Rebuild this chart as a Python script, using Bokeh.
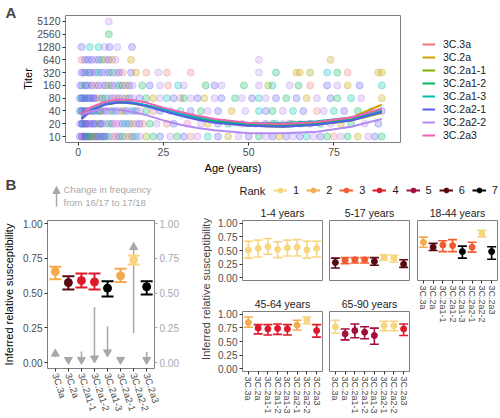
import math
from bokeh.plotting import figure
from bokeh.models import (Range1d, FactorRange, FixedTicker, NumeralTickFormatter,
                          LinearAxis, Legend, LegendItem, Label, Arrow, NormalHead,
                          ColumnDataSource)
from bokeh.layouts import row, column
from bokeh.embed import file_html
from bokeh.resources import INLINE

FONT = "Liberation Sans"

# ---------------- data ----------------
clades = ["3C.3a", "3C.2a", "3C.2a1-1", "3C.2a1-2", "3C.2a1-3", "3C.2a2-1", "3C.2a2-2", "3C.2a3"]
clade_colors = ["#f0787a", "#c9a000", "#7cae00", "#00b761", "#00bfb0", "#5a5af0", "#b58af0", "#f062b0"]
titer_ticks = [10, 20, 40, 80, 160, 320, 640, 1280, 2560, 5120]
age_ticks = [0, 25, 50, 75]

# individual titers: (age, clade index)
pts_10 = [(0.5, 5), (1, 6), (1.5, 0), (2, 5), (2.5, 3), (3, 6), (3.5, 5), (4, 1), (4.5, 5), (5, 2), (6, 5),
          (6.5, 6), (7, 3), (8, 5), (9, 3), (10, 6), (11, 0), (12, 5), (13, 3), (14, 6), (15, 1), (16, 5),
          (17, 4), (18, 6), (20, 2), (22, 3), (24, 5), (27, 6), (29, 3), (31, 5), (33, 0), (35, 6), (38, 4),
          (41, 5), (44, 1), (47, 6), (50, 5), (53, 3), (55, 6), (57, 5), (59, 1), (61, 5), (63, 6), (65, 5),
          (67, 4), (69, 6), (71, 5), (73, 3), (75, 0), (77, 6), (79, 3), (82, 1), (85, 6), (87, 5), (89, 3),
          (1.2, 5), (2.2, 5), (3.2, 3), (5.5, 5), (7.5, 5)]
pts_20 = [(0.5, 6), (1, 5), (1.5, 3), (2, 6), (2.5, 5), (3, 0), (3.5, 5), (4, 6), (5, 5), (6, 2), (7, 5),
          (8, 6), (9, 3), (10, 5), (11, 7), (12, 6), (13, 5), (14, 4), (15, 5), (16, 1), (17, 6), (18, 5),
          (19, 0), (21, 3), (23, 6), (26, 0), (28, 5), (32, 7), (36, 6), (38, 1), (41, 5), (44, 3), (48, 6),
          (52, 0), (55, 5), (57, 3), (58, 4), (60, 6), (62, 5), (63, 2), (65, 6), (68, 5), (71, 4), (74, 6),
          (77, 1), (80, 3), (84, 6), (88, 5), (1.2, 5), (2.2, 5), (4.5, 5), (6.5, 5)]
pts_40 = [(0.5, 5), (1, 3), (1.5, 6), (2, 5), (3, 1), (3.5, 5), (4, 6), (5, 4), (6, 5), (7, 0), (8, 5),
          (9, 6), (10, 3), (11, 5), (12, 6), (13, 2), (14, 5), (15, 6), (16, 4), (17, 5), (18, 6), (20, 3),
          (22, 0), (24, 5), (27, 6), (30, 4), (33, 5), (36, 3), (38, 6), (41, 5), (45, 1), (49, 6), (53, 4),
          (55, 5), (57, 3), (60, 6), (63, 4), (66, 5), (70, 0), (72, 6), (75, 4), (78, 5), (82, 3), (86, 6),
          (89, 5), (1.2, 5), (2.5, 5), (4.5, 5), (6.5, 3)]
pts_80 = [(0.5, 5), (1, 4), (1.5, 6), (2, 5), (2.5, 3), (3, 5), (4, 6), (5, 5), (6, 1), (7, 5), (8, 3),
          (9, 6), (10, 5), (11, 0), (12, 5), (13, 6), (14, 2), (15, 5), (16, 6), (18, 5), (20, 3), (22, 1),
          (24, 6), (26, 4), (28, 5), (30, 0), (31, 3), (33, 6), (35, 5), (37, 1), (40, 6), (42, 5), (46, 3),
          (48, 6), (51, 5), (53, 4), (55, 6), (58, 5), (61, 3), (64, 5), (67, 1), (70, 6), (74, 5), (76, 3),
          (80, 4), (83, 6), (89, 1), (1.2, 5), (3.5, 5), (4.5, 5)]
pts_160 = [(0.5, 6), (1, 5), (2, 3), (2.5, 5), (3, 6), (4, 5), (5, 0), (6, 5), (7, 6), (8, 5), (9, 2),
           (10, 5), (11, 6), (12, 3), (13, 5), (14, 1), (15, 5), (16, 6), (18.8, 3), (21, 5), (24, 6),
           (26.4, 0), (29.3, 4), (31, 6), (37.4, 3), (40, 5), (42, 6), (48.6, 3), (53, 6), (55.7, 2),
           (57, 4), (62, 6), (64.6, 3), (68, 0), (73, 5), (76, 6), (79, 1), (82.5, 5), (89, 4)]
pts_320 = [(1, 5), (1.5, 6), (2, 5), (3, 3), (3.5, 5), (4, 6), (5, 5), (6, 4), (7, 5), (8, 6), (9, 5),
           (10, 3), (11, 6), (12, 5), (13, 0), (15.5, 5), (17, 1), (20, 0), (23.5, 6), (26, 0), (33, 0),
           (53, 6), (58, 3), (64, 1), (65, 1), (68, 2), (73, 4), (76, 3), (79, 0), (88, 1), (89, 1)]
pts_640 = [(1, 0), (2, 5), (3, 5), (4, 5), (5, 6), (6, 5), (7, 3), (8, 0), (9, 5), (10, 1), (11, 6),
           (15.5, 1), (53, 6), (74, 1)]
pts_1280 = [(1, 5), (3.4, 4), (6, 4), (7.8, 6), (9.2, 5), (11.5, 6), (15.8, 5)]
pts_2560 = [(9, 3)]
pts_5120 = [(9, 6)]

# fitted curves per clade
curve_ages = [1, 4, 8, 12, 16, 20, 25, 30, 35, 40, 50, 60, 70, 80, 89]
curve_3C3a = [30, 45, 60, 66, 63, 55, 44, 35, 28, 24, 20, 19, 21, 26, 38]
curve_3C2a = [26, 42, 58, 64, 61, 53, 42, 33, 27, 23, 19, 18, 20, 28, 56]
curve_3C2a1_1 = [27, 42, 57, 63, 60, 52, 41, 32, 26, 22, 18, 17, 19, 24, 36]
curve_3C2a1_2 = [27, 43, 58, 65, 62, 54, 42, 33, 27, 23, 19, 18, 20, 25, 40]
curve_3C2a1_3 = [28, 44, 59, 66, 63, 55, 44, 35, 29, 25, 21, 21, 23, 28, 42]
curve_3C2a2_1 = [26, 42, 57, 64, 61, 52, 40, 31, 25, 21, 18, 17, 19, 24, 38]
curve_3C2a2_2 = [32, 40, 44, 43, 38, 32, 24, 19, 16, 14, 12, 12, 13, 17, 26]
curve_3C2a3 = [33, 50, 66, 75, 72, 63, 48, 38, 31, 26, 21, 20, 22, 28, 45]

# rank palette
rank_labels = ["1", "2", "3", "4", "5", "6", "7"]
rank_colors = ["#f8d57e", "#f5aa4b", "#f05c30", "#de1a2a", "#a30f3c", "#5a0812", "#000000"]

# overall susceptibility
all_est = [0.655, 0.575, 0.59, 0.58, 0.535, 0.625, 0.74, 0.545]
all_lo = [0.60, 0.525, 0.54, 0.525, 0.475, 0.58, 0.705, 0.49]
all_hi = [0.69, 0.62, 0.64, 0.64, 0.585, 0.675, 0.77, 0.585]
all_rank = [2, 6, 4, 4, 7, 2, 1, 7]
freq_from = [0.04, 0.04, 0.08, 0.40, 0.26, 0.04, 0.21, 0.075]
freq_to = [0.063, 0.02, 0.02, 0.03, 0.074, 0.02, 0.83, 0.02]

# by age group
est_1_4 = [0.51, 0.54, 0.57, 0.52, 0.55, 0.56, 0.51, 0.54]
lo_1_4 = [0.36, 0.38, 0.43, 0.37, 0.40, 0.40, 0.36, 0.38]
hi_1_4 = [0.67, 0.69, 0.72, 0.66, 0.69, 0.70, 0.67, 0.67]
rank_1_4 = [1, 1, 1, 1, 1, 1, 1, 1]

est_5_17 = [0.28, 0.32, 0.33, 0.33, 0.30, 0.37, 0.36, 0.25]
lo_5_17 = [0.18, 0.26, 0.27, 0.27, 0.23, 0.32, 0.29, 0.19]
hi_5_17 = [0.36, 0.37, 0.37, 0.37, 0.37, 0.42, 0.41, 0.33]
rank_5_17 = [6, 3, 3, 3, 6, 1, 1, 6]

est_18_44 = [0.65, 0.56, 0.60, 0.59, 0.48, 0.56, 0.81, 0.48]
lo_18_44 = [0.56, 0.50, 0.48, 0.48, 0.36, 0.47, 0.75, 0.34]
hi_18_44 = [0.745, 0.63, 0.68, 0.70, 0.58, 0.65, 0.87, 0.57]
rank_18_44 = [2, 6, 3, 3, 7, 3, 1, 7]

est_45_64 = [0.85, 0.745, 0.73, 0.74, 0.73, 0.80, 0.89, 0.70]
lo_45_64 = [0.76, 0.64, 0.62, 0.63, 0.62, 0.71, 0.82, 0.58]
hi_45_64 = [0.95, 0.81, 0.81, 0.82, 0.81, 0.89, 0.95, 0.81]
rank_45_64 = [2, 4, 4, 4, 4, 2, 1, 4]

est_65_90 = [0.77, 0.64, 0.70, 0.67, 0.61, 0.79, 0.79, 0.73]
lo_65_90 = [0.65, 0.53, 0.57, 0.55, 0.45, 0.70, 0.70, 0.61]
hi_65_90 = [0.89, 0.73, 0.82, 0.77, 0.745, 0.87, 0.87, 0.82]
rank_65_90 = [1, 5, 5, 5, 5, 1, 1, 4]

susc_ticks = [0, 0.25, 0.5, 0.75, 1.0]

GREY = "#a8a8a8"
COMMON = dict(output_backend="svg", toolbar_location=None, frame_align=False)

# approximate advance widths (em) of Liberation Sans, for centering facet titles
CHAR_EM = {"-": 0.333, " ": 0.278, "y": 0.5, "e": 0.556, "a": 0.556, "r": 0.333, "s": 0.5}


def text_width(s, size):
    return sum(CHAR_EM.get(ch, 0.556) for ch in s) * size


def base_style(p, label_size="10px"):
    p.outline_line_color = "#7f7f7f"
    p.outline_line_width = 1
    p.grid.visible = False
    p.background_fill_color = "white"
    p.border_fill_color = "white"
    for ax in p.axis:
        ax.axis_line_color = None
        ax.major_tick_line_color = "#333333"
        ax.major_tick_out = 3
        ax.major_tick_in = 0
        ax.minor_tick_line_color = None
        ax.major_label_text_color = "#4d4d4d"
        ax.major_label_text_font = FONT
        ax.major_label_text_font_size = label_size
        ax.major_label_standoff = 2
        ax.axis_label_text_font = FONT
        ax.axis_label_text_font_style = "normal"
        ax.axis_label_text_color = "#000000"
        ax.axis_label_text_font_size = "11px"


def blank(width, height):
    p = figure(width=width, height=height, x_range=Range1d(0, width), y_range=Range1d(0, height),
               x_axis_location=None, y_axis_location=None, min_border=0,
               outline_line_color=None, **COMMON)
    p.grid.visible = False
    return p


# ---------------- panel A ----------------
strip = blank(19, 176)
strip.add_layout(Label(x=5, y=164, text="A", text_font=FONT, text_font_size="15px",
                       text_font_style="bold", text_baseline="middle", text_align="left"))

pA = figure(width=383, height=176, x_range=Range1d(-3.7, 94.5), y_range=Range1d(7.25, 7070),
            y_axis_type="log", min_border_left=41, min_border_right=2, min_border_top=15,
            min_border_bottom=33, **COMMON)
base_style(pA, "10.5px")
pA.xaxis.ticker = FixedTicker(ticks=age_ticks)
pA.yaxis.ticker = FixedTicker(ticks=titer_ticks)
pA.yaxis.formatter = NumeralTickFormatter(format="0")
pA.xaxis.axis_label = "Age (years)"
pA.yaxis.axis_label = "Titer"
pA.xaxis.axis_label_standoff = 3
pA.yaxis.axis_label_standoff = 0

levels = [(10, pts_10), (20, pts_20), (40, pts_40), (80, pts_80), (160, pts_160), (320, pts_320),
          (640, pts_640), (1280, pts_1280), (2560, pts_2560), (5120, pts_5120)]
px, py, pc = [], [], []
for titer, pts in levels:
    for age, ci in pts:
        px.append(age)
        py.append(titer)
        pc.append(clade_colors[ci])
pA.scatter(x=px, y=py, size=7, fill_color=pc, line_color=pc, fill_alpha=0.27, line_alpha=0.32)

curves = [curve_3C3a, curve_3C2a, curve_3C2a1_1, curve_3C2a1_2, curve_3C2a1_3,
          curve_3C2a2_1, curve_3C2a2_2, curve_3C2a3]
for name, col, vals in zip(clades, clade_colors, curves):
    pA.line(x=curve_ages, y=vals, line_color=col, line_width=2)

# legend for A in its own strip
legfig = blank(98, 176)
items = []
for name, col in zip(clades, clade_colors):
    r = legfig.line(x=[-50, -40], y=[-50, -50], line_color=col, line_width=2)
    items.append(LegendItem(label=name, renderers=[r]))
legA = Legend(items=items, location=(20, 35), margin=0, padding=0, spacing=1,
              label_height=12, glyph_height=12, glyph_width=13, label_standoff=8,
              label_text_font=FONT, label_text_font_size="10.5px", label_text_color="#1a1a1a",
              border_line_color=None, background_fill_alpha=0)
legfig.add_layout(legA)

# ---------------- panel B header ----------------
hdr = blank(198, 32)
hdr.add_layout(Label(x=5, y=24, text="B", text_font=FONT, text_font_size="15px",
                     text_font_style="bold", text_baseline="middle"))
hdr.add_layout(Arrow(x_start=56, y_start=2, x_end=56, y_end=22, line_color=GREY, line_width=1.5,
                     end=NormalHead(size=7, fill_color=GREY, line_color=GREY)))
for txt, yy in [("Change in frequency", 19), ("from 16/17 to 17/18", 6)]:
    hdr.add_layout(Label(x=63, y=yy, text=txt, text_font=FONT, text_font_size="9.5px",
                         text_color=GREY, text_baseline="middle"))

# ---------------- panel B left ----------------
pL = figure(width=198, height=210,
            x_range=FactorRange(factors=clades, range_padding=0.1, range_padding_units="absolute"),
            y_range=Range1d(-0.043, 1.022),
            min_border_left=43, min_border_right=44, min_border_top=12, min_border_bottom=50, **COMMON)
pL.add_layout(LinearAxis(), "right")
base_style(pL, "10px")
for ax in pL.yaxis:
    ax.ticker = FixedTicker(ticks=susc_ticks)
    ax.formatter = NumeralTickFormatter(format="0.00")
pL.yaxis[0].axis_label = "Inferred relative susceptibility"
pL.yaxis[0].axis_label_standoff = 5
pL.yaxis[1].major_label_text_color = GREY
pL.yaxis[1].major_tick_line_color = GREY
pL.xaxis.major_label_orientation = -1.25
pL.xaxis.major_label_text_font_size = "9.5px"

fsrc = ColumnDataSource(dict(x=clades, y0=freq_from, y1=freq_to,
                             m=["triangle" if b > a else "inverted_triangle" for a, b in zip(freq_from, freq_to)]))
pL.segment(x0="x", y0="y0", x1="x", y1="y1", source=fsrc, line_color=GREY, line_width=1.5)
pL.scatter(x="x", y="y1", marker="m", size=8, source=fsrc, fill_color=GREY, line_color=GREY)


def draw_ranges(p, est, lo, hi, ranks, cap, lw, ps):
    cols = [rank_colors[r - 1] for r in ranks]
    src = ColumnDataSource(dict(x=clades, y=est, lo=lo, hi=hi, c=cols))
    p.segment(x0="x", y0="lo", x1="x", y1="hi", source=src, line_color="c", line_width=lw)
    p.scatter(x="x", y="lo", marker="dash", size=cap, source=src, line_color="c", line_width=lw)
    p.scatter(x="x", y="hi", marker="dash", size=cap, source=src, line_color="c", line_width=lw)
    p.scatter(x="x", y="y", marker="circle", size=ps, source=src, fill_color="c", line_color="c")


draw_ranges(pL, all_est, all_lo, all_hi, all_rank, 12, 2, 8)

# ---------------- facet y label ----------------
ylab = blank(14, 242)
ylab.add_layout(Label(x=7.5, y=129.5, text="Inferred relative susceptibility", angle=math.pi / 2,
                      text_font=FONT, text_font_size="11px", text_align="center",
                      text_baseline="middle"))

# ---------------- rank legend ----------------
rl = blank(288, 24)
ritems = []
for lab, col in zip(rank_labels, rank_colors):
    # keys only: one point placed outside the visible range so only the legend icon shows
    r1 = rl.segment(x0=[-50], y0=[-50], x1=[-49], y1=[-50], line_color=col, line_width=2)
    r2 = rl.scatter(x=[-50], y=[-50], size=6, fill_color=col, line_color=col)
    ritems.append(LegendItem(label=lab, renderers=[r1, r2]))
rleg = Legend(items=ritems, orientation="horizontal", location=(61, 4), margin=0, padding=0,
              spacing=7, glyph_width=14, glyph_height=12, label_height=12, label_width=6,
              label_standoff=6, label_text_font=FONT, label_text_font_size="11px",
              label_text_color="#1a1a1a", border_line_color=None, background_fill_alpha=0)
rl.add_layout(rleg)
rl.add_layout(Label(x=27, y=10, text="Rank", text_font=FONT, text_font_size="11px",
                    text_baseline="middle", text_color="#1a1a1a"))


# ---------------- facets ----------------
FRAME_W = 80


def facet(title, est, lo, hi, ranks, width, height, bl, br, bt, bb, yaxis, xaxis):
    p = figure(width=width, height=height, title=title,
               x_range=FactorRange(factors=clades, range_padding=0.1, range_padding_units="absolute"),
               y_range=Range1d(-0.05, 1.05),
               x_axis_location="below" if xaxis else None, y_axis_location="left" if yaxis else None,
               min_border_left=bl, min_border_right=br, min_border_top=bt, min_border_bottom=bb,
               **COMMON)
    base_style(p, "10px")
    p.title.align = "left"
    p.title.offset = (FRAME_W - text_width(title, 10.5)) / 2
    p.title.text_font = FONT
    p.title.text_font_size = "10.5px"
    p.title.text_font_style = "normal"
    p.title.text_color = "#1a1a1a"
    p.title.standoff = 4
    if yaxis:
        p.yaxis.ticker = FixedTicker(ticks=susc_ticks)
        p.yaxis.formatter = NumeralTickFormatter(format="0.00")
    if xaxis:
        p.xaxis.major_label_orientation = -math.pi / 2
        p.xaxis.major_label_text_font_size = "9px"
    draw_ranges(p, est, lo, hi, ranks, 9, 1.6, 6)
    return p


f1 = facet("1-4 years", est_1_4, lo_1_4, hi_1_4, rank_1_4, 113, 90, 30, 3, 20, 10, True, False)
f2 = facet("5-17 years", est_5_17, lo_5_17, hi_5_17, rank_5_17, 88, 90, 4, 4, 20, 10, False, False)
f3 = facet("18-44 years", est_18_44, lo_18_44, hi_18_44, rank_18_44, 87, 218, 4, 3, 20, 138, False, True)
f4 = facet("45-64 years", est_45_64, lo_45_64, hi_45_64, rank_45_64, 113, 128, 30, 3, 21, 47, True, True)
f5 = facet("65-90 years", est_65_90, lo_65_90, hi_65_90, rank_65_90, 88, 128, 4, 4, 21, 47, False, True)

right = column(rl, row(column(row(f1, f2), row(f4, f5)), f3))
bpart = row(column(hdr, pL), ylab, right)
layout = column(row(strip, pA, legfig), bpart)

open("out.html", "w").write(file_html(layout, INLINE))
